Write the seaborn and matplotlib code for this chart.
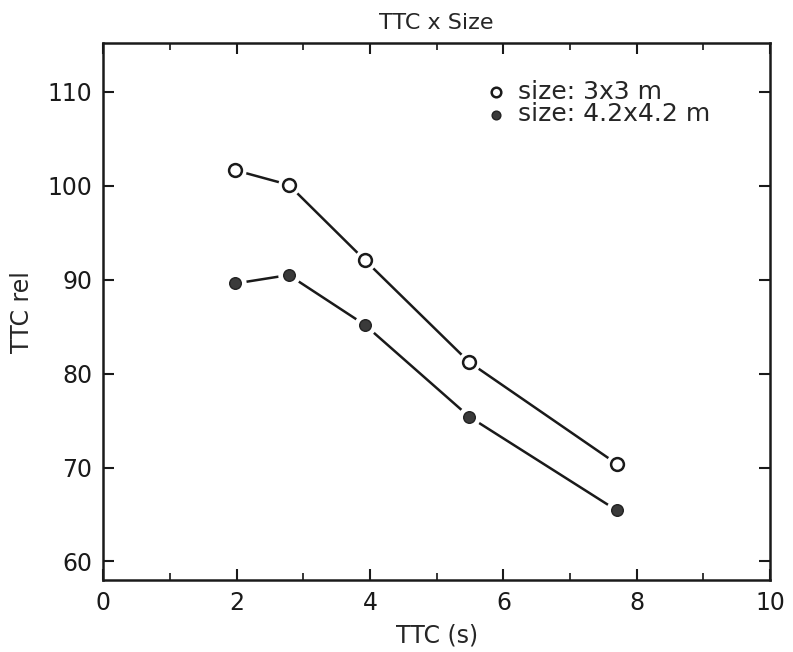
import matplotlib
matplotlib.use("Agg")
import matplotlib.pyplot as plt
import seaborn as sns
import pandas as pd
from matplotlib.ticker import MultipleLocator

# Data
ttc = [1.98, 2.78, 3.92, 5.49, 7.70]
rel_3x3 = [101.65, 100.1, 92.1, 81.2, 70.4]
rel_42x42 = [89.6, 90.5, 85.2, 75.4, 65.45]
series_labels = ["size: 3x3 m", "size: 4.2x4.2 m"]

df = pd.DataFrame({
    "ttc": ttc * 2,
    "rel": rel_3x3 + rel_42x42,
    "size": [series_labels[0]] * len(ttc) + [series_labels[1]] * len(ttc),
})

sns.set_theme(style="ticks")
plt.rcParams["font.family"] = ["DejaVu Sans"]

fig = plt.figure(figsize=(7.93, 6.52), dpi=100)
ax = fig.add_axes([0.1305, 0.110, 0.8405, 0.824])

# lines
sns.lineplot(data=df, x="ttc", y="rel", hue="size", palette=["#1a1a1a", "#1a1a1a"],
             linewidth=1.8, legend=False, ax=ax, zorder=1)
# white halos around markers
sns.scatterplot(data=df, x="ttc", y="rel", color="white", s=260, linewidth=0,
                legend=False, ax=ax, zorder=2)
# markers
d1 = df[df["size"] == series_labels[0]]
d2 = df[df["size"] == series_labels[1]]
sns.scatterplot(data=d1, x="ttc", y="rel", marker="o", s=85, facecolor="white",
                edgecolor="#1a1a1a", linewidth=1.8, ax=ax, zorder=3, label=series_labels[0])
sns.scatterplot(data=d2, x="ttc", y="rel", marker="o", s=70, facecolor="#3a3a3a",
                edgecolor="#222222", linewidth=1.0, ax=ax, zorder=3, label=series_labels[1])

ax.set_xlim(0, 10)
ax.set_ylim(58.0, 115.2)
ax.xaxis.set_major_locator(MultipleLocator(2))
ax.xaxis.set_minor_locator(MultipleLocator(1))
ax.yaxis.set_major_locator(MultipleLocator(10))
ax.tick_params(axis="both", which="major", direction="in", length=8, width=1.5,
               top=True, right=True, labelsize=17, pad=8, colors="#1a1a1a")
ax.tick_params(axis="x", which="minor", direction="in", length=5, width=1.3,
               top=True, bottom=True)
for s in ax.spines.values():
    s.set_linewidth(1.8)
    s.set_color("#1a1a1a")

ax.set_xlabel("TTC (s)", fontsize=17, labelpad=6)
ax.set_ylabel("TTC rel", fontsize=17, labelpad=10)
ax.set_title("TTC x Size", fontsize=16, pad=10)

leg = ax.legend(loc="upper left", frameon=False, fontsize=18, handletextpad=0.4,
                handlelength=1.0, borderpad=0.0, borderaxespad=0.0,
                labelspacing=-0.05, markerscale=0.75,
                bbox_to_anchor=(0.57, 0.932))

fig.savefig("out.png", dpi=100)
